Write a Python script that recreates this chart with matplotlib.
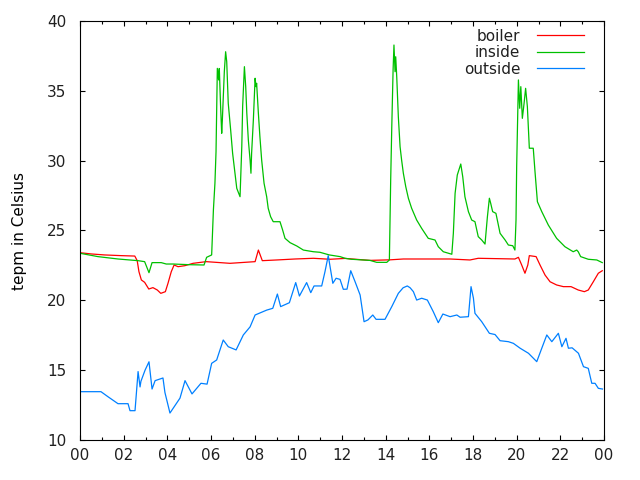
import matplotlib
matplotlib.use("Agg")
import matplotlib.pyplot as plt
from matplotlib.ticker import MultipleLocator, FuncFormatter

# hours of day, degrees Celsius
boiler_h = [0.0, 0.52, 1.13, 1.89, 2.51, 2.62, 2.70, 2.81, 2.96, 3.15, 3.34, 3.54,
            3.70, 3.91, 4.03, 4.18, 4.31, 4.49, 4.80, 5.18, 5.78, 6.87, 8.02, 8.17,
            8.35, 9.01, 9.85, 10.69, 11.45, 12.14, 13.28, 14.20, 14.81, 16.95, 17.86,
            18.24, 19.92, 20.08, 20.23, 20.38, 20.51, 20.58, 20.89, 21.07, 21.30,
            21.53, 21.83, 22.14, 22.49, 22.82, 23.10, 23.28, 23.51, 23.74, 23.92]
boiler_t = [23.41, 23.32, 23.25, 23.20, 23.17, 22.84, 22.05, 21.46, 21.29, 20.81,
            20.91, 20.74, 20.50, 20.62, 21.22, 22.05, 22.53, 22.41, 22.48, 22.65,
            22.77, 22.65, 22.77, 23.60, 22.84, 22.89, 22.96, 23.01, 22.94, 23.00,
            22.86, 22.90, 22.96, 22.96, 22.89, 23.01, 22.96, 23.08, 22.53, 21.94,
            22.53, 23.20, 23.13, 22.53, 21.81, 21.33, 21.10, 20.98, 20.98, 20.74,
            20.62, 20.74, 21.33, 21.94, 22.12]

inside_h = [0.0, 0.82, 1.74, 2.66, 2.96, 3.16, 3.30, 3.72, 3.95, 4.26, 5.04, 5.68,
            5.80, 6.03, 6.11, 6.18, 6.23, 6.29, 6.35, 6.38, 6.44, 6.49, 6.52, 6.56,
            6.61, 6.67, 6.72, 6.79, 6.90, 6.99, 7.10, 7.18, 7.33, 7.41, 7.45, 7.53,
            7.59, 7.64, 7.71, 7.79, 7.83, 7.86, 7.94, 8.02, 8.06, 8.09, 8.17, 8.24,
            8.32, 8.43, 8.55, 8.62, 8.73, 8.85, 9.16, 9.28, 9.39, 9.62, 9.93, 10.23,
            10.69, 10.99, 11.42, 11.91, 12.14, 12.44, 12.98, 13.28, 13.59, 14.05,
            14.17, 14.23, 14.28, 14.34, 14.38, 14.43, 14.46, 14.51, 14.58, 14.66,
            14.73, 14.81, 14.92, 15.04, 15.19, 15.42, 15.65, 15.95, 16.26, 16.41,
            16.64, 17.03, 17.10, 17.18, 17.28, 17.44, 17.53, 17.63, 17.79, 17.94,
            18.09, 18.24, 18.40, 18.55, 18.66, 18.75, 18.81, 18.90, 19.05, 19.24,
            19.47, 19.62, 19.82, 19.92, 19.97, 20.00, 20.08, 20.14, 20.19, 20.26,
            20.34, 20.41, 20.49, 20.58, 20.76, 20.84, 20.95, 21.15, 21.45, 21.83,
            22.21, 22.59, 22.75, 22.82, 22.93, 23.28, 23.67, 23.92]
inside_t = [23.37, 23.13, 22.96, 22.84, 22.77, 21.98, 22.70, 22.70, 22.60, 22.60,
            22.55, 22.53, 23.08, 23.25, 26.47, 28.38, 30.64, 36.61, 35.78, 36.60,
            33.87, 31.96, 32.91, 34.46, 36.37, 37.80, 37.09, 34.11, 32.20, 30.53,
            29.10, 28.02, 27.42, 31.00, 33.90, 36.73, 35.30, 33.39, 31.48, 30.05,
            29.10, 30.53, 32.91, 35.90, 35.30, 35.54, 33.39, 31.72, 30.05, 28.38,
            27.42, 26.59, 25.99, 25.63, 25.63, 25.04, 24.44, 24.13, 23.89, 23.60,
            23.48, 23.44, 23.25, 23.13, 23.01, 22.94, 22.89, 22.86, 22.72, 22.72,
            22.89, 28.62, 32.44, 36.49, 38.28, 36.37, 37.44, 35.90, 33.15, 31.00,
            30.05, 29.10, 28.14, 27.31, 26.59, 25.75, 25.15, 24.44, 24.32, 23.84,
            23.48, 23.30, 24.80, 27.66, 28.97, 29.76, 28.85, 27.42, 26.35, 25.75,
            25.63, 24.56, 24.32, 24.03, 25.99, 27.31, 26.95, 26.35, 26.23, 24.80,
            24.32, 23.96, 23.91, 23.60, 25.75, 29.57, 35.78, 33.75, 35.30, 33.03,
            34.11, 35.18, 33.87, 30.89, 30.89, 29.21, 27.06, 26.35, 25.39, 24.44,
            23.84, 23.48, 23.60, 23.48, 23.13, 22.94, 22.89, 22.70]

outside_h = [0.0, 0.96, 1.28, 1.74, 2.20, 2.29, 2.52, 2.66, 2.75, 2.79, 2.98, 3.16,
             3.30, 3.44, 3.80, 3.89, 4.12, 4.58, 4.81, 5.13, 5.54, 5.82, 6.03, 6.26,
             6.56, 6.79, 7.15, 7.48, 7.79, 8.02, 8.55, 8.83, 9.04, 9.19, 9.59, 9.88,
             10.05, 10.38, 10.57, 10.72, 11.07, 11.22, 11.37, 11.58, 11.73, 11.91,
             12.06, 12.23, 12.40, 12.60, 12.83, 13.01, 13.19, 13.41, 13.56, 13.97,
             14.28, 14.58, 14.80, 14.99, 15.12, 15.27, 15.42, 15.65, 15.91, 16.18,
             16.41, 16.62, 16.95, 17.26, 17.41, 17.79, 17.91, 18.02, 18.09, 18.40,
             18.75, 19.01, 19.24, 19.62, 19.85, 20.16, 20.54, 20.92, 21.15, 21.38,
             21.61, 21.91, 22.07, 22.26, 22.37, 22.54, 22.83, 23.06, 23.28, 23.44,
             23.59, 23.74, 23.93]
outside_t = [13.46, 13.46, 13.10, 12.60, 12.60, 12.10, 12.10, 14.90, 13.80, 14.20,
             15.00, 15.60, 13.65, 14.25, 14.44, 13.40, 11.93, 13.00, 14.25, 13.30,
             14.06, 14.00, 15.49, 15.73, 17.16, 16.68, 16.45, 17.52, 18.10, 18.95,
             19.30, 19.43, 20.45, 19.55, 19.83, 21.27, 20.31, 21.27, 20.55, 21.03,
             21.03, 22.05, 23.20, 21.22, 21.58, 21.50, 20.79, 20.80, 22.12, 21.33,
             20.38, 18.47, 18.60, 18.95, 18.64, 18.64, 19.55, 20.50, 20.90, 21.03,
             20.90, 20.62, 20.02, 20.15, 20.02, 19.19, 18.40, 19.02, 18.83, 18.95,
             18.79, 18.83, 20.98, 20.15, 19.07, 18.47, 17.64, 17.55, 17.11, 17.04,
             16.92, 16.57, 16.21, 15.61, 16.57, 17.52, 17.04, 17.64, 16.68, 17.28,
             16.57, 16.60, 16.21, 15.25, 15.13, 14.06, 14.06, 13.70, 13.65]

plt.rcParams['font.family'] = 'DejaVu Sans'
plt.rcParams['font.size'] = 11
plt.rcParams['text.color'] = '#202020'
plt.rcParams['xtick.labelcolor'] = '#202020'
plt.rcParams['ytick.labelcolor'] = '#202020'

fig = plt.figure(figsize=(6.4, 4.8), dpi=100)
ax = fig.add_axes([80 / 640, 40 / 480, 524 / 640, 419 / 480])

ax.plot(boiler_h, boiler_t, color='#ff0000', lw=0.9, label='boiler')
ax.plot(inside_h, inside_t, color='#00c000', lw=0.9, label='inside')
ax.plot(outside_h, outside_t, color='#0080ff', lw=0.9, label='outside')

ax.set_xlim(0, 24)
ax.set_ylim(10, 40)
ax.xaxis.set_major_locator(MultipleLocator(2))
ax.xaxis.set_minor_locator(MultipleLocator(1))
ax.xaxis.set_major_formatter(FuncFormatter(lambda v, p: "%02d" % (int(round(v)) % 24)))
ax.yaxis.set_major_locator(MultipleLocator(5))
ax.tick_params(which='both', direction='in', top=True, right=True, width=0.8)
ax.tick_params(which='major', length=3.3)
ax.tick_params(which='minor', length=2.2)
ax.tick_params(axis='y', pad=10)
ax.tick_params(axis='x', pad=6)
for s in ax.spines.values():
    s.set_linewidth(0.8)

ax.set_ylabel("tepm in Celsius", labelpad=14)

ax.legend(loc='upper right', bbox_to_anchor=(0.977, 1.0), frameon=False,
          markerfirst=False, handlelength=3.1, handletextpad=1.1,
          labelspacing=0.1, borderaxespad=0.2, borderpad=0.3)

fig.savefig("out.png", dpi=100)
